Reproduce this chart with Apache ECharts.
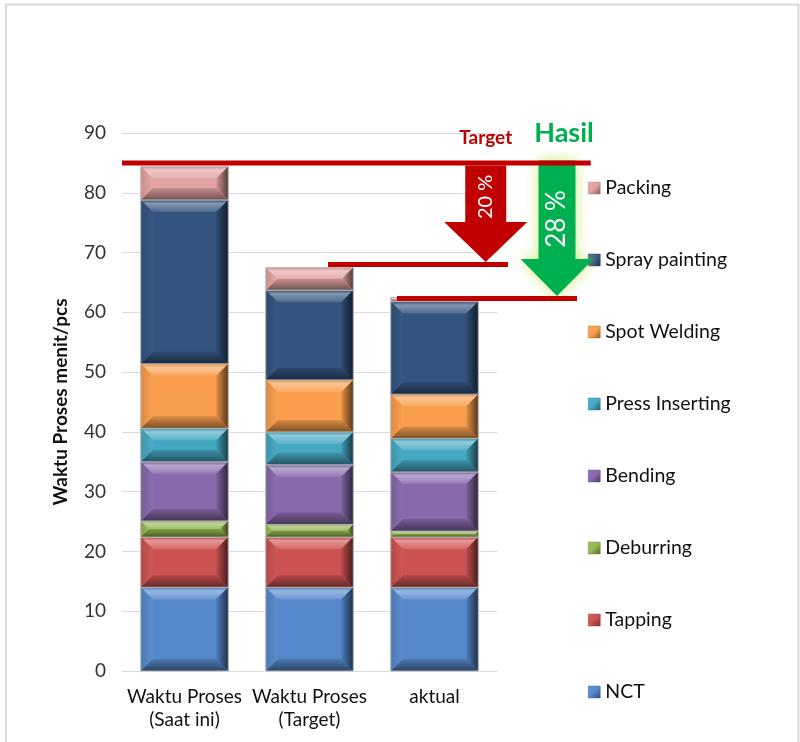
<!DOCTYPE html>
<html>
<head>
<meta charset="utf-8">
<script src="https://cdn.jsdelivr.net/npm/echarts@6/dist/echarts.min.js"></script>
<style>
  html, body { margin: 0; padding: 0; background: #ffffff; }
  #chart { width: 800px; height: 742px; }
</style>
</head>
<body>
<div id="chart"></div>
<script>
// Categories on the x axis
const categories = ['Waktu Proses\n(Saat ini)', 'Waktu Proses\n(Target)', 'aktual'];

// Process time per stage (menit/pcs), stacked bottom to top
const nct            = [14.0, 14.0, 14.0];
const tapping        = [8.4, 8.4, 8.4];
const deburring      = [2.7, 2.1, 1.0];
const bending        = [9.9, 10.0, 9.9];
const pressInserting = [5.6, 5.5, 5.6];
const spotWelding    = [10.8, 8.7, 7.4];
const sprayPainting  = [27.4, 15.0, 15.5];
const packing        = [5.6, 3.8, 0.7];

// Y axis scale
const yMin = 0;
const yMax = 90;
const yInterval = 10;

// Reference levels and reductions
const levelSaatIni = 85;
const levelTarget = 68;
const levelAktual = 62.3;
const reductionTarget = '20 %';
const reductionHasil = '28 %';

const stages = [
  { name: 'NCT',             values: nct,            color: '#5689CC' },
  { name: 'Tapping',         values: tapping,        color: '#CC5351' },
  { name: 'Deburring',       values: deburring,      color: '#94B652' },
  { name: 'Bending',         values: bending,        color: '#876AAC' },
  { name: 'Press Inserting', values: pressInserting, color: '#45A8C3' },
  { name: 'Spot Welding',    values: spotWelding,    color: '#F99E4C' },
  { name: 'Spray painting',  values: sprayPainting,  color: '#33547F' },
  { name: 'Packing',         values: packing,        color: '#E3A3A2' }
];

const FONT = 'Lato, "Open Sans", sans-serif';

function shade(hex, amt) {
  const n = parseInt(hex.slice(1), 16);
  let r = (n >> 16) & 255, g = (n >> 8) & 255, b = n & 255;
  const t = amt < 0 ? 0 : 255, p = Math.abs(amt);
  r = Math.round(r + (t - r) * p);
  g = Math.round(g + (t - g) * p);
  b = Math.round(b + (t - b) * p);
  return 'rgb(' + r + ',' + g + ',' + b + ')';
}

function lg(x0, y0, x1, y1, stops) {
  return new echarts.graphic.LinearGradient(x0, y0, x1, y1,
    stops.map(s => ({ offset: s[0], color: s[1] })));
}

// Bevelled stacked segment
function bevelSegment(color) {
  return function (params, api) {
    const cat = api.value(0), lo = api.value(1), hi = api.value(2);
    if (!(hi > lo)) return null;
    const pLo = api.coord([cat, lo]);
    const pHi = api.coord([cat, hi]);
    const w = api.size([1, 0])[0] * 0.7;
    const x = pLo[0] - w / 2;
    const y = pHi[1];
    const h = pLo[1] - pHi[1];
    const b = Math.min(12, h / 2, w / 2);
    const silent = true;
    return {
      type: 'group',
      children: [
        { type: 'rect', shape: { x, y, width: w, height: h }, style: { fill: color }, silent },
        { type: 'polygon', silent,
          shape: { points: [[x, y], [x + w, y], [x + w - b, y + b], [x + b, y + b]] },
          style: { fill: lg(0, 0, 0, 1, [[0, shade(color, -0.1)], [0.3, shade(color, 0.4)], [1, shade(color, 0.12)]]) } },
        { type: 'polygon', silent,
          shape: { points: [[x, y + h], [x + w, y + h], [x + w - b, y + h - b], [x + b, y + h - b]] },
          style: { fill: lg(0, 0, 0, 1, [[0, shade(color, -0.12)], [1, shade(color, -0.5)]]) } },
        { type: 'polygon', silent,
          shape: { points: [[x, y], [x + b, y + b], [x + b, y + h - b], [x, y + h]] },
          style: { fill: lg(0, 0, 1, 0, [[0, shade(color, -0.12)], [1, shade(color, 0.03)]]) } },
        { type: 'polygon', silent,
          shape: { points: [[x + w, y], [x + w - b, y + b], [x + w - b, y + h - b], [x + w, y + h]] },
          style: { fill: lg(0, 0, 1, 0, [[0, shade(color, -0.08)], [1, shade(color, -0.65)]]) } },
        { type: 'rect', silent, shape: { x, y, width: w, height: h },
          style: { fill: null, stroke: 'rgba(185,185,185,0.9)', lineWidth: 1 } }
      ]
    };
  };
}

// Cumulative stacking
const base = categories.map(() => 0);
const barSeries = stages.map(st => {
  const data = categories.map((_, j) => {
    const lo = base[j];
    base[j] += st.values[j];
    return [j, lo, base[j]];
  });
  return {
    name: st.name,
    type: 'custom',
    renderItem: bevelSegment(st.color),
    itemStyle: { color: st.color },
    encode: { x: 0, y: [1, 2] },
    data: data,
    z: 2
  };
});

// Reference lines, reduction arrows and their captions
function renderLevels(params, api) {
  const band = api.size([1, 0])[0];
  const c0 = api.coord([0, 0])[0];
  const c1 = api.coord([1, 0])[0];
  const c2 = api.coord([2, 0])[0];
  const y1 = api.coord([0, levelSaatIni])[1];
  const y2 = api.coord([0, levelTarget])[1];
  const y3 = api.coord([0, levelAktual])[1];
  const lw = 5;
  const red = '#C00000', green = '#00B050';
  const bar = (xa, xb, yy) => ({ type: 'rect', shape: { x: xa, y: yy - lw / 2, width: xb - xa, height: lw }, style: { fill: red }, silent: true });

  const ax = c2 + 0.41 * band;
  const aTop = y1 + lw / 2, aTip = y2 - lw / 2, aHead = aTip - 40;
  const redArrow = {
    type: 'polygon', silent: true,
    shape: { points: [[ax - 20.5, aTop], [ax + 20.5, aTop], [ax + 20.5, aHead], [ax + 41.5, aHead], [ax, aTip], [ax - 41.5, aHead], [ax - 20.5, aHead]] },
    style: { fill: red }
  };

  const gx = c2 + 0.98 * band;
  const gTop = y1 - 2.5, gTip = y3 - lw / 2, gHead = gTip - 37;
  const greenArrow = {
    type: 'polygon', silent: true,
    shape: { points: [[gx - 18.5, gTop], [gx + 18.5, gTop], [gx + 18.5, gHead], [gx + 36.5, gHead], [gx, gTip], [gx - 36.5, gHead], [gx - 18.5, gHead]] },
    style: { fill: green, shadowBlur: 14, shadowColor: 'rgba(200,235,110,0.9)' }
  };

  return {
    type: 'group',
    children: [
      greenArrow,
      redArrow,
      bar(c0 - 0.5 * band, c2 + 1.25 * band, y1),
      bar(c1 + 0.148 * band, c2 + 0.588 * band, y2),
      bar(c2 - 0.3 * band, c2 + 1.14 * band, y3),
      { type: 'text', silent: true, x: ax, y: y1 - 25,
        style: { text: 'Target', fill: red, font: 'bold 19px ' + FONT, align: 'center', verticalAlign: 'middle' } },
      { type: 'text', silent: true, x: gx + 7, y: y1 - 30,
        style: { text: 'Hasil', fill: green, font: 'bold 27px ' + FONT, align: 'center', verticalAlign: 'middle' } },
      { type: 'text', silent: true, x: ax, y: y1 + 34, rotation: Math.PI / 2,
        style: { text: reductionTarget, fill: '#ffffff', font: '20px ' + FONT, align: 'center', verticalAlign: 'middle' } },
      { type: 'text', silent: true, x: gx, y: y1 + 56, rotation: Math.PI / 2,
        style: { text: reductionHasil, fill: '#ffffff', font: '26px ' + FONT, align: 'center', verticalAlign: 'middle' } }
    ]
  };
}

const chart = echarts.init(document.getElementById('chart'), null, { renderer: 'canvas' });

chart.setOption({
  backgroundColor: '#ffffff',
  animation: false,
  textStyle: { fontFamily: FONT },
  graphic: [{
    type: 'rect', silent: true,
    shape: { x: 6, y: 4.5, width: 792.5, height: 760 },
    style: { fill: null, stroke: '#d9d9d9', lineWidth: 2 }
  }],
  grid: { left: 122, right: 303, top: 133, bottom: 71, containLabel: false },
  legend: {
    orient: 'vertical',
    left: 583,
    top: 172,
    itemWidth: 12,
    itemHeight: 12,
    itemGap: 50,
    selectedMode: false,
    icon: 'rect',
    textStyle: { fontFamily: FONT, fontSize: 19.5, color: '#111111', lineHeight: 22 },
    data: stages.slice().reverse().map(st => ({
      name: st.name,
      itemStyle: {
        color: lg(0, 0, 1, 1, [[0, shade(st.color, 0.1)], [0.5, st.color], [1, shade(st.color, -0.45)]]),
        borderColor: shade(st.color, -0.2),
        borderWidth: 0.5
      }
    }))
  },
  xAxis: {
    type: 'category',
    data: categories,
    axisLine: { show: true, lineStyle: { color: '#d9d9d9', width: 1 } },
    axisTick: { show: false },
    axisLabel: { color: '#111111', fontSize: 19, lineHeight: 23, margin: 14, interval: 0, fontFamily: FONT }
  },
  yAxis: {
    type: 'value',
    min: yMin,
    max: yMax,
    interval: yInterval,
    name: 'Waktu Proses menit/pcs',
    nameLocation: 'middle',
    nameGap: 52,
    nameTextStyle: { color: '#111111', fontSize: 19, fontWeight: 'bold', fontFamily: FONT },
    axisLine: { show: false },
    axisTick: { show: false },
    splitLine: { lineStyle: { color: '#d9d9d9', width: 1 } },
    axisLabel: { color: '#333333', fontSize: 19, margin: 16, fontFamily: FONT }
  },
  series: barSeries.concat([{
    name: 'levels',
    type: 'custom',
    renderItem: renderLevels,
    encode: { x: 0, y: 1 },
    data: [[0, 0]],
    z: 5,
    silent: true
  }])
});
</script>
</body>
</html>
